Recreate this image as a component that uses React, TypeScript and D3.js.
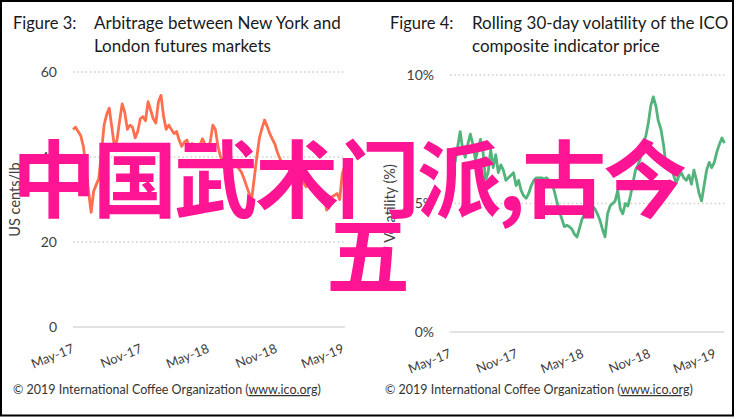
import * as d3 from "d3";

// Weekly series starting at the first week of May 2017
const seriesStart = new Date(2017, 4, 1);

// Figure 3: NY - London arbitrage, US cents/lb
const arbitrage = [
  46.5, 47, 46, 45, 42.5, 38, 32, 27, 32, 33.5, 35, 41, 47.5, 50, 51.5, 47, 42.5, 44, 48.5, 52.5,
  50.5, 46.5, 47.5, 47, 44.5, 46, 49, 49.5, 48.5, 53, 51, 49, 48, 53, 54.5, 49.5, 46.5, 47.5, 46.5, 45.5,
  46, 44, 42.5, 43.5, 44, 42.2, 43.2, 42.5, 41.6, 42.8, 44.3, 43, 42.2, 43.5, 47.5, 46.5, 42.5, 40, 39, 40,
  40.3, 38.2, 38.5, 38.6, 37.3, 36.5, 35, 33.2, 31.5, 30, 35, 40, 44.5, 46.8, 48.7, 47.2, 45.5, 44.2, 43, 41,
  39.5, 38.5, 38, 37.3, 36.8, 36.2, 35.8, 35.5, 34.8, 34, 33, 33.4, 32.3, 31.7, 32.5, 32.2, 31.2, 30.6, 27.5, 29,
  30.6, 31, 31.4, 30, 36, 38,
];

// Figure 4: rolling 30-day volatility, %
const volatility = [
  6.5, 7.0, 6.6, 7.2, 7.8, 7.1, 6.8, 7.3, 7.7, 7.3, 6.7, 7.1, 7.5, 7.0, 5.9, 6.2, 7.1, 6.4, 6.9, 6.2,
  6.5, 6.3, 5.9, 6.0, 6.1, 6.2, 5.7, 5.9, 5.5, 5.3, 5.2, 5.4, 5.7, 5.9, 6.0, 6.0, 6.0, 5.95, 6.0, 5.9,
  5.8, 5.5, 5.1, 4.7, 4.4, 4.1, 4.15, 4.1, 4.0, 3.8, 3.7, 4.05, 4.4, 4.6, 4.75, 5.0, 4.9, 4.8, 4.6, 4.35,
  4.0, 3.7, 4.6, 4.9, 5.0, 5.1, 5.5, 4.8, 4.6, 5.0, 4.9, 5.3, 5.8, 6.3, 6.5, 6.8, 7.35, 7.6, 8.1, 8.8,
  9.15, 8.8, 8.2, 7.9, 7.3, 6.5, 6.3, 6.4, 6.1, 5.8, 6.05, 6.2, 6.0, 5.9, 6.1, 5.75, 6.3, 5.9, 5.4, 5.1,
  5.7, 6.3, 6.6, 6.4, 6.6, 7.0, 7.3, 7.55, 7.35,
];

const xTickDates = [
  new Date(2017, 4, 1),
  new Date(2017, 10, 1),
  new Date(2018, 4, 1),
  new Date(2018, 10, 1),
  new Date(2019, 4, 1),
];
const arbitrageTicks = [0, 20, 40, 60];
const volatilityTicks = [0, 5, 10];
const overlayLines = ["中国武术门派,古今", "五"];
const footer = "© 2019 International Coffee Organization (";
const footerLink = "www.ico.org";

const FONT = "Lato, 'Open Sans', sans-serif";
const fmtMonth = d3.timeFormat("%b-%y");

type PanelProps = {
  figure: string;
  title: string[];
  yLabel: string;
  values: number[];
  ticks: number[];
  tickFmt: (v: number) => string;
  color: string;
  left: number;
  right: number;
  top: number;
  bottom: number;
  yMax: number;
  titleX: number;
  figX: number;
  yLabelX: number;
};

function Panel(p: PanelProps) {
  const x = d3.scaleTime().domain([xTickDates[0], xTickDates[4]]).range([p.left, p.right]);
  const y = d3.scaleLinear().domain([0, p.yMax]).range([p.bottom, p.top]);
  const pts = p.values.map((v, i) => ({ d: d3.timeDay.offset(seriesStart, i * 7), v }));
  const line = d3
    .line<{ d: Date; v: number }>()
    .x((d) => x(d.d))
    .y((d) => y(d.v));
  const gridEnd = x(pts[pts.length - 1].d);
  return (
    <g>
      <text x={p.figX} y={29} fontSize={16.5} fill="#1a1a1a" fontFamily={FONT}>
        {p.figure}
      </text>
      {p.title.map((t, i) => (
        <text key={i} x={p.titleX} y={29 + i * 23} fontSize={17} fill="#1a1a1a" fontFamily={FONT}>
          {t}
        </text>
      ))}
      {p.ticks.map((t) => (
        <g key={t}>
          <line
            x1={p.left}
            x2={Math.max(gridEnd, p.right)}
            y1={y(t)}
            y2={y(t)}
            stroke={t === 0 ? "#d9d9d9" : "#cfcfcf"}
            strokeWidth={t === 0 ? 1.6 : 1.4}
            strokeDasharray={t === 0 ? undefined : "1.6 2.6"}
          />
          <text
            x={p.left - 16}
            y={y(t)}
            dy="0.35em"
            textAnchor="end"
            fontSize={14}
            fill="#404040"
            fontFamily={FONT}
          >
            {p.tickFmt(t)}
          </text>
        </g>
      ))}
      <text
        transform={`translate(${p.yLabelX},${(p.top + p.bottom) / 2}) rotate(-90)`}
        textAnchor="middle"
        fontSize={14.5}
        fill="#404040"
        fontFamily={FONT}
      >
        {p.yLabel}
      </text>
      {xTickDates.map((d, i) => (
        <text
          key={i}
          transform={`translate(${x(d) + 2},${p.bottom + 25}) rotate(-22)`}
          textAnchor="end"
          fontSize={13}
          fill="#404040"
          fontFamily={FONT}
        >
          {fmtMonth(d)}
        </text>
      ))}
      <path d={line(pts) ?? ""} fill="none" stroke={p.color} strokeWidth={2.8} strokeLinejoin="round" />
    </g>
  );
}

export default function App() {
  return (
    <svg
      width={739}
      height={419}
      style={{ position: "absolute", left: 0, top: 0, background: "#fff" }}
    >
      <rect x={0} y={0} width={739} height={419} fill="#fff" />
      <rect x={1} y={1} width={732} height={414.5} fill="none" stroke="#000" strokeWidth={2} />
      <Panel
        figure="Figure 3:"
        title={["Arbitrage between New York and", "London futures markets"]}
        yLabel="US cents/lb"
        values={arbitrage}
        ticks={arbitrageTicks}
        tickFmt={(v) => `${v}`}
        color="#ff6f4f"
        left={73}
        right={343}
        top={72}
        bottom={327}
        yMax={60}
        titleX={94}
        figX={13}
        yLabelX={20}
      />
      <Panel
        figure="Figure 4:"
        title={["Rolling 30-day volatility of the ICO", "composite indicator price"]}
        yLabel="Volatility (%)"
        values={volatility}
        ticks={volatilityTicks}
        tickFmt={(v) => `${v}%`}
        color="#52b47b"
        left={450}
        right={715}
        top={75}
        bottom={332}
        yMax={10}
        titleX={472}
        figX={390}
        yLabelX={395}
      />
      {[13, 385].map((fx) => (
        <text key={fx} x={fx} y={394} fontSize={12.5} fill="#333" fontFamily={FONT}>
          {footer}
          <tspan textDecoration="underline">{footerLink}</tspan>)
        </text>
      ))}
      <g fontFamily="'Noto Sans CJK SC', sans-serif" fontWeight="bold" fontSize={84} fill="#ff1493">
        <text x={12} y={211} letterSpacing={-3}>
          {overlayLines[0]}
        </text>
        <text x={326} y={287}>
          {overlayLines[1]}
        </text>
      </g>
    </svg>
  );
}
